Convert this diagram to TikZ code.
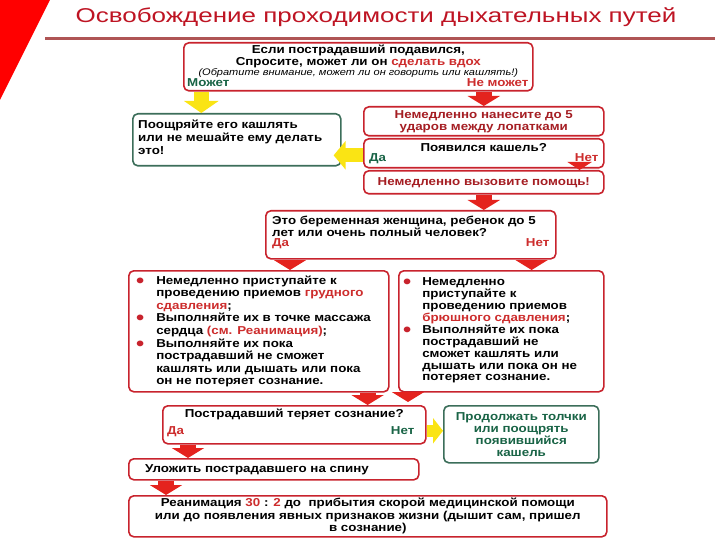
\documentclass[tikz,border=0pt]{standalone}
\usepackage{fontspec}
\setmainfont{Liberation Sans}[FakeStretch=1.16]
\usetikzlibrary{positioning,arrows.meta}

\definecolor{boxred}{RGB}{200,35,45}
\definecolor{txtred}{RGB}{205,45,45}
\definecolor{darkred}{RGB}{165,30,35}
\definecolor{boxgreen}{RGB}{60,110,90}
\definecolor{txtgreen}{RGB}{25,100,70}
\definecolor{arrred}{RGB}{228,35,30}
\definecolor{arryellow}{RGB}{250,228,20}
\definecolor{titlered}{RGB}{190,20,35}
\definecolor{rulered}{RGB}{175,85,85}

\newcommand{\redbullet}{\raisebox{-3pt}{\textcolor{boxred}{\fontsize{20}{12}\selectfont\textbullet}}}

\begin{document}
\begin{tikzpicture}[x=1pt,y=-1pt,
	rbox/.style={draw=boxred, line width=1.6pt, rounded corners=5pt,
		fill=white, anchor=north west, inner sep=0pt},
	gbox/.style={rbox, draw=boxgreen},
	txt/.style={font=\fontsize{11.5}{13}\selectfont\bfseries, inner sep=0pt},
	redarr/.style={arrred, line width=16pt, -{Triangle[width=32pt,length=10pt]}},
	smallarr/.style={arrred, line width=12pt, -{Triangle[width=24pt,length=8pt]}},
	yelarr/.style={arryellow, line width=15pt, -{Triangle[width=34pt,length=12pt]}}]

\useasboundingbox (0,0) rectangle (720,540);
\fill[red] (0,0) -- (50,0) -- (0,100) -- cycle;
\node[font=\fontsize{20}{24}\selectfont, text=titlered, xscale=1.12, anchor=base, inner sep=0pt]
	(title) at (376,23) {Освобождение проходимости дыхательных путей};
\draw[rulered, line width=3pt] (45,39) -- (715,39);

% first question
\node[rbox, minimum width=349pt, minimum height=48pt] (ask) at (183,42) {};
\node[txt, anchor=base] (ask1) at ([yshift=-12pt]ask.north) {Если пострадавший подавился,};
\node[txt, anchor=base] (ask2) at ([yshift=-24pt]ask.north)
	{Спросите, может ли он \textcolor{txtred}{сделать вдох}};
\node[font=\fontsize{9.5}{11}\selectfont\itshape, anchor=base, inner sep=0pt] (ask3)
	at ([yshift=-34pt]ask.north) {(Обратите внимание, может ли он говорить или кашлять!)};
\node[txt, text=txtgreen, anchor=base west] (can) at ([shift={(4pt,-45pt)}]ask.north west) {Может};
\node[txt, text=txtred, anchor=base east] (cannot) at ([shift={(-5pt,-45pt)}]ask.north east) {Не может};

\node[gbox, minimum width=208pt, minimum height=52pt] (enc) at (132,113) {};
\node[txt, align=left, anchor=north west] (enct) at ([shift={(6pt,-7pt)}]enc.north west)
	{Поощряйте его кашлять\\или не мешайте ему делать\\это!};

\node[rbox, minimum width=240pt, minimum height=29pt] (hit) at (363,106) {};
\node[txt, text=darkred, align=center, font=\fontsize{11.5}{12}\selectfont\bfseries] (hitt)
	at (hit.center) {Немедленно нанесите до 5\\ударов между лопатками};

\node[rbox, minimum width=240pt, minimum height=29pt] (cgh) at (363,138) {};
\node[txt, anchor=base] (cght) at ([yshift=-14pt]cgh.north) {Появился кашель?};
\node[txt, text=txtgreen, anchor=base west] (cghy) at ([shift={(6pt,-24pt)}]cgh.north west) {Да};
\node[txt, text=txtred, anchor=base east] (cghn) at ([shift={(-6pt,-24pt)}]cgh.north east) {Нет};

\node[rbox, minimum width=240pt, minimum height=23pt] (call) at (363,170) {};
\node[txt, text=darkred] (callt) at (call.center) {Немедленно вызовите помощь!};

% second question
\node[rbox, minimum width=290pt, minimum height=48pt] (preg) at (265,210) {};
\node[txt, align=left, anchor=north west, font=\fontsize{11.5}{12}\selectfont\bfseries] (pregt)
	at ([shift={(7pt,-6pt)}]preg.north west) {Это беременная женщина, ребенок до 5\\лет или очень полный человек?};
\node[txt, text=txtred, anchor=base west] (pregy) at ([shift={(7pt,-37pt)}]preg.north west) {Да};
\node[txt, text=txtred, anchor=base east] (pregn) at ([shift={(-7pt,-37pt)}]preg.north east) {Нет};

\node[rbox, minimum width=260pt, minimum height=121pt] (lb) at (128,270) {};
\node[txt, anchor=north west, font=\fontsize{11.5}{12.6}\selectfont\bfseries] (lbt)
	at ([shift={(8pt,-5pt)}]lb.north west) {%
	\begin{tabular}{@{}l@{\hspace{12pt}}l@{}}
	\redbullet & Немедленно приступайте к\\
	& проведению приемов \textcolor{txtred}{грудного}\\
	& \textcolor{txtred}{сдавления};\\
	\redbullet & Выполняйте их в точке массажа\\
	& сердца \textcolor{txtred}{(см. Реанимация)};\\
	\redbullet & Выполняйте их пока\\
	& пострадавший не сможет\\
	& кашлять или дышать или пока\\
	& он не потеряет сознание.
	\end{tabular}};

\node[rbox, minimum width=205pt, minimum height=121pt] (rb) at (398,270) {};
\node[txt, anchor=north west, font=\fontsize{11.5}{11.8}\selectfont\bfseries] (rbt)
	at ([shift={(5pt,-7pt)}]rb.north west) {%
	\begin{tabular}{@{}l@{\hspace{11pt}}l@{}}
	\redbullet & Немедленно\\
	& приступайте к\\
	& проведению приемов\\
	& \textcolor{txtred}{брюшного сдавления};\\
	\redbullet & Выполняйте их пока\\
	& пострадавший не\\
	& сможет кашлять или\\
	& дышать или пока он не\\
	& потеряет сознание.
	\end{tabular}};

% third question
\node[rbox, minimum width=263pt, minimum height=38pt] (lost) at (162,405) {};
\node[txt, anchor=base] (lostt) at ([yshift=-12pt]lost.north) {Пострадавший теряет сознание?};
\node[txt, text=txtred, anchor=base west] (losty) at ([shift={(5pt,-29pt)}]lost.north west) {Да};
\node[txt, text=txtgreen, anchor=base east] (lostn) at ([shift={(-12pt,-29pt)}]lost.north east) {Нет};

\node[gbox, minimum width=155pt, minimum height=57pt] (cont) at (443,405) {};
\node[txt, text=txtgreen, align=center, font=\fontsize{11.5}{12}\selectfont\bfseries] (contt)
	at (cont.center) {Продолжать толчки\\или поощрять\\появившийся\\кашель};

\node[rbox, minimum width=290pt, minimum height=21pt] (back) at (128,458) {};
\node[txt, anchor=west] (backt) at ([xshift=17pt]back.west) {Уложить пострадавшего на спину};

\node[rbox, minimum width=478pt, minimum height=41pt] (reanim) at (128,495) {};
\node[txt, align=center, font=\fontsize{11.5}{12.5}\selectfont\bfseries] (reanimt) at (reanim.center)
	{Реанимация \textcolor{txtred}{30} : \textcolor{txtred}{2} до\ \ прибытия скорой медицинской помощи\\
	или до появления явных признаков жизни (дышит сам, пришел\\в сознание)};

% block arrows
\coordinate (a1) at ([xshift=-157pt]ask.south);
\draw[yelarr] (a1) -- (a1 |- enc.north);
\draw[redarr] (ask.south -| hit.north) -- (hit.north);
\draw[yelarr, line width=14pt, -{Triangle[width=28pt,length=12pt]}] ([yshift=-2pt]cgh.west)
	-- ([xshift=-8pt,yshift=-2pt]cgh.west -| enc.east);
\coordinate (a2) at ([xshift=-25pt,yshift=6pt]cgh.south east);
\draw[smallarr] (a2) -- (a2 |- call.north);
\draw[redarr] (call.south) -- (call.south |- preg.north);
\coordinate (a3) at ([xshift=25pt]preg.south west);
\draw[redarr] (a3) -- (a3 |- lb.north);
\coordinate (a4) at ([xshift=-25pt]preg.south east);
\draw[redarr] (a4) -- (a4 |- rb.north);
\coordinate (a5) at ([xshift=-22pt]lb.south east);
\draw[redarr] (a5) -- (a5 |- lost.north);
\coordinate (a6) at ([xshift=10pt]rb.south west);
\draw[redarr] (a6) -- ([yshift=3pt]a6 |- lost.north);
\draw[yelarr, line width=12pt, -{Triangle[width=25pt,length=10pt]}] ([yshift=-6pt]lost.east)
	-- ([yshift=-6pt]lost.east -| cont.west);
\coordinate (a7) at ([xshift=26pt]lost.south west);
\draw[redarr] (a7) -- (a7 |- back.north);
\coordinate (a8) at ([xshift=38pt]back.south west);
\draw[redarr] (a8) -- (a8 |- reanim.north);
\end{tikzpicture}
\end{document}
